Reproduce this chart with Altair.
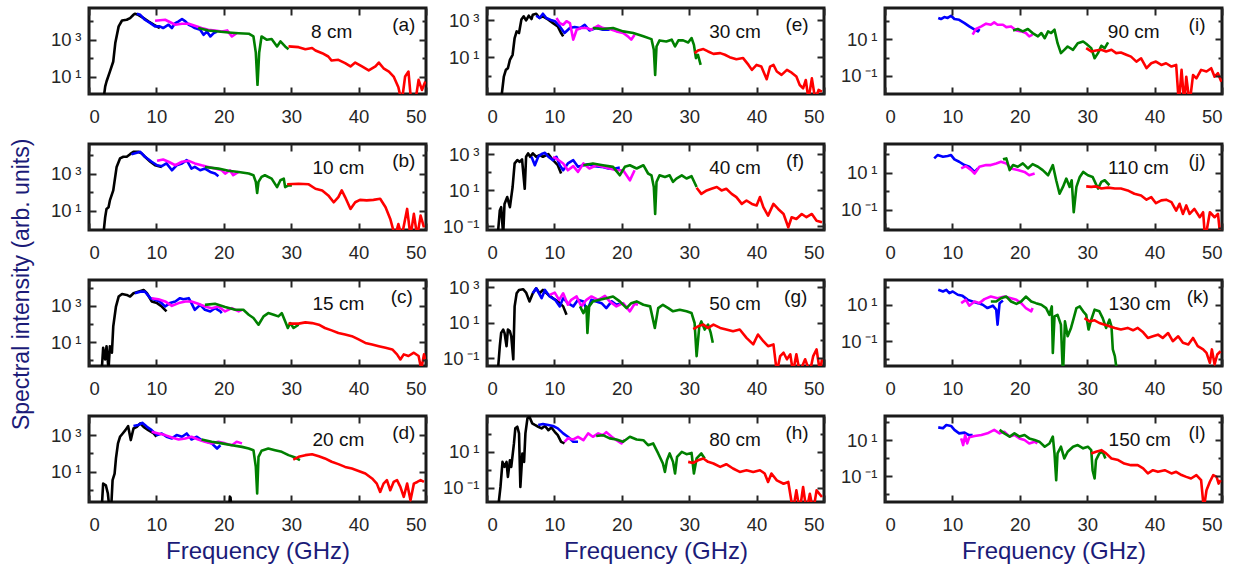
import altair as alt
import pandas as pd

# ---------------- data: (frequency in GHz, log10 of spectral intensity) ----------------
A_BLACK = [(2.1,-0.4),(2.4,0.45),(2.6,0.73),(3.1,1.27),(3.6,1.82),(3.9,2.82),(4.4,3.73),(4.9,4.05),(5.6,4.09),(6.1,4.18),(6.6,4.36),(6.8,4.42),(7.3,4.36),(8.1,4.18),(8.8,4.0),(9.6,3.82),(10.5,3.64)]
A_BLUE = [(7.1,4.42),(7.6,4.36),(8.3,4.09),(9.1,3.91),(9.8,3.73),(10.5,3.73),(11.0,3.64),(11.8,3.82),(12.3,3.64),(12.8,3.91),(13.3,4.0),(13.8,4.13),(14.3,4.0),(14.8,3.82),(15.3,3.73),(15.7,3.64),(16.5,3.55),(17.0,3.27),(17.5,3.45),(18.0,3.18),(18.5,3.36),(19.0,3.45)]
A_MAGENTA = [(9.8,4.04),(11.3,4.09),(12.8,3.82),(13.8,3.87),(14.8,3.87),(15.7,3.76),(16.7,3.64),(17.7,3.55),(18.7,3.51),(19.7,3.45),(20.5,3.51),(21.2,3.18),(21.9,3.36)]
A_GREEN = [(16.2,3.64),(17.7,3.51),(19.2,3.45),(20.7,3.4),(22.2,3.36),(23.7,3.33),(24.4,3.18),(24.75,2.3),(25.0,0.55),(25.25,2.3),(25.6,3.18),(26.4,3.0),(27.1,3.04),(27.9,2.64),(28.4,2.91),(29.1,2.64),(29.6,2.49)]
A_RED = [(29.6,2.64),(31.1,2.6),(32.1,2.49),(33.1,2.55),(33.6,2.42),(34.6,2.27),(35.5,2.09),(36.0,1.87),(37.0,1.91),(38.0,1.73),(38.8,1.55),(39.5,1.76),(40.5,1.55),(41.5,1.33),(42.5,1.55),(43.0,1.76),(43.7,1.45),(44.5,1.27),(45.2,1.0),(45.9,0.42),(46.4,-0.4),(46.9,1.0),(47.4,1.27),(47.8,-0.4),(48.4,-0.4),(48.9,0.82),(49.4,0.27),(49.9,0.73)]

B_BLACK = [(2.1,-0.4),(2.4,0.64),(2.6,1.09),(2.9,1.18),(3.1,1.55),(3.6,2.09),(4.1,3.36),(4.6,3.82),(5.1,3.91),(5.6,3.91),(6.1,4.05),(6.6,4.18),(7.3,4.18),(7.8,4.09),(8.3,3.91),(9.1,3.64),(9.8,3.45),(10.8,3.36)]
B_BLUE = [(6.3,4.05),(7.1,4.13),(7.6,4.18),(8.3,3.91),(9.3,3.64),(10.1,3.45),(10.8,3.4),(11.5,3.55),(12.3,3.18),(13.0,3.45),(13.8,3.55),(14.5,3.73),(15.2,3.27),(15.7,3.36),(16.5,3.18),(17.2,3.27),(18.0,3.09),(18.7,3.0),(19.2,2.85)]
B_MAGENTA = [(10.1,3.69),(11.0,3.76),(11.8,3.64),(12.8,3.45),(13.8,3.64),(14.8,3.69),(15.7,3.55),(16.7,3.45),(17.7,3.36),(18.7,3.27),(19.7,3.18),(20.2,3.0),(20.9,3.18),(21.4,2.91),(22.2,3.09)]
B_GREEN = [(17.2,3.36),(19.2,3.27),(20.7,3.15),(22.2,3.09),(23.7,3.0),(24.4,2.91),(24.75,2.55),(24.95,1.95),(25.15,2.55),(25.6,2.82),(26.1,2.91),(27.1,2.73),(27.9,2.27),(28.4,2.64),(28.9,2.73),(29.1,2.27),(29.6,2.36),(30.1,2.36)]
B_RED = [(29.4,2.42),(31.1,2.45),(32.6,2.42),(33.6,2.18),(34.6,2.09),(35.5,1.82),(36.3,1.45),(37.0,1.73),(37.5,2.09),(38.0,1.73),(38.8,1.09),(39.5,1.45),(40.2,1.58),(41.2,1.55),(42.2,1.58),(43.2,1.64),(44.0,1.18),(44.7,0.55),(45.4,-0.4),(45.9,0.27),(46.4,-0.4),(47.2,1.09),(47.7,-0.4),(48.2,0.82),(48.7,-0.4),(49.2,0.73),(49.7,0.09)]

C_BLACK = [(1.9,-0.5),(2.1,0.69),(2.4,0.05),(2.6,0.78),(2.9,-0.5),(3.1,0.78),(3.4,0.42),(3.6,1.87),(4.0,2.96),(4.4,3.51),(4.9,3.65),(5.6,3.6),(6.1,3.51),(6.6,3.69),(7.3,3.78),(8.1,3.87),(8.6,3.69),(9.3,3.24),(10.1,3.15),(10.8,2.96),(11.5,2.69)]
C_BLUE = [(6.8,3.69),(7.6,3.78),(8.3,3.78),(9.1,3.42),(9.8,3.33),(10.5,3.24),(11.3,2.96),(12.0,3.15),(12.8,3.24),(13.5,3.42),(14.0,3.36),(14.8,3.42),(15.2,3.15),(15.7,2.78),(16.5,3.05),(17.2,2.78),(18.0,2.69),(18.7,2.87),(19.5,2.69),(19.7,2.6)]
C_MAGENTA = [(9.3,3.42),(10.3,3.36),(11.3,3.24),(12.3,3.0),(13.3,3.15),(14.3,3.24),(15.2,3.24),(16.2,3.11),(17.2,2.96),(18.2,2.87),(19.2,2.96),(20.2,2.69),(21.2,2.87),(22.2,2.69),(22.7,2.78)]
C_GREEN = [(17.2,3.05),(18.7,3.11),(20.2,2.93),(21.7,2.78),(22.9,2.78),(23.7,2.51),(24.4,2.33),(25.15,1.96),(25.9,2.42),(26.6,2.6),(27.4,2.51),(28.1,2.42),(28.6,2.6),(29.1,2.15),(29.5,1.78),(29.85,2.05),(30.35,1.78),(31.1,1.96)]
C_RED = [(29.6,2.02),(31.1,2.02),(32.1,2.09),(33.1,2.05),(34.1,1.96),(35.0,1.78),(36.0,1.65),(37.0,1.51),(38.0,1.42),(39.0,1.33),(40.0,1.15),(41.0,0.96),(42.0,0.87),(43.0,0.78),(44.0,0.69),(45.0,0.6),(45.7,0.33),(46.2,0.05),(46.7,0.33),(47.4,0.24),(48.2,0.42),(48.9,0.24),(49.3,-0.5),(49.7,0.33),(49.9,0.05)]

D_BLACK = [(1.9,-0.9),(2.1,0.36),(2.5,0.27),(2.8,-0.18),(3.0,-0.9),(3.3,-0.9),(3.5,0.55),(3.8,0.91),(4.0,1.73),(4.3,2.55),(4.6,2.91),(5.0,3.09),(5.4,3.27),(5.8,3.49),(6.2,2.73),(6.6,3.36),(7.1,3.45),(7.6,3.64),(8.1,3.45),(8.8,3.27),(9.6,3.09),(10.0,2.91)]
D_BLACK_B = [(20.8,-0.9),(20.9,-0.35),(21.0,-0.4),(21.1,-0.9)]
D_BLUE = [(6.6,3.49),(7.3,3.55),(7.9,3.67),(8.6,3.45),(9.3,3.27),(10.1,3.0),(10.8,3.09),(11.5,2.91),(12.3,2.82),(13.0,3.0),(13.8,2.91),(14.5,3.09),(15.2,2.76),(16.0,2.91),(16.7,2.73),(17.5,2.64),(18.2,2.55),(19.0,2.27),(19.5,2.45)]
D_MAGENTA = [(9.3,3.18),(10.3,3.09),(11.3,3.0),(12.3,2.87),(13.3,2.76),(14.3,2.82),(15.2,2.91),(16.2,2.76),(17.2,2.64),(18.2,2.55),(19.2,2.64),(20.2,2.55),(21.2,2.45),(21.9,2.64),(22.7,2.55)]
D_GREEN = [(16.7,2.76),(18.2,2.64),(19.7,2.55),(21.2,2.45),(22.7,2.36),(23.7,2.27),(24.4,2.18),(24.75,1.27),(24.95,-0.18),(25.15,1.82),(25.6,2.15),(26.6,2.27),(27.6,2.18),(28.6,2.09),(29.6,1.91),(30.6,1.78),(31.3,1.64)]
D_RED = [(30.3,1.67),(31.1,1.82),(32.1,1.91),(33.1,1.96),(34.1,1.85),(35.0,1.73),(36.0,1.55),(37.0,1.42),(38.0,1.27),(39.0,1.18),(40.0,1.05),(41.0,0.91),(42.0,0.64),(42.7,0.36),(43.2,-0.09),(43.7,0.36),(44.2,0.55),(44.7,0.0),(45.2,0.45),(45.7,0.55),(46.2,0.18),(46.7,-0.36),(47.2,0.36),(47.7,-0.55),(48.2,0.36),(48.7,0.45),(49.2,0.55),(49.7,0.45)]

E_BLACK = [(2.1,-1.3),(2.5,-0.05),(2.8,0.31),(3.1,0.4),(3.4,0.85),(3.8,1.13),(4.1,2.04),(4.4,2.4),(4.75,2.31),(5.1,3.04),(5.45,3.22),(5.8,3.0),(6.2,3.25),(6.6,3.07),(6.8,3.31),(7.3,3.36),(7.8,3.13),(8.3,3.22),(9.1,3.04),(9.8,2.85),(10.5,2.67),(11.0,2.31),(11.3,2.13)]
E_BLUE = [(7.3,3.25),(7.8,3.13),(8.3,3.36),(8.8,3.13),(9.6,3.0),(10.1,2.95),(10.8,2.67),(11.5,2.31),(12.3,2.58),(13.0,2.64),(13.8,2.58),(14.5,2.76),(15.2,2.45),(16.2,2.58),(17.2,2.49),(18.2,2.49)]
E_MAGENTA = [(10.3,3.13),(10.8,2.85),(11.3,2.76),(11.8,2.95),(12.3,2.85),(12.8,1.95),(13.3,2.49),(14.0,2.58),(14.75,2.58),(15.5,2.49),(16.5,2.71),(17.2,2.58),(18.2,2.53),(19.2,2.4),(20.2,2.31),(20.9,2.13),(21.4,1.95),(21.9,2.22)]
E_GREEN = [(15.7,2.58),(17.2,2.53),(18.7,2.58),(20.2,2.4),(21.7,2.31),(23.2,2.13),(24.4,1.98),(24.75,1.4),(24.95,0.04),(25.15,1.58),(25.6,1.91),(26.6,1.85),(27.4,1.95),(27.9,1.58),(28.4,1.91),(29.1,1.91),(29.85,1.8),(30.35,2.04),(30.7,1.67),(31.0,0.95),(31.3,1.13),(31.7,0.58)]
E_RED = [(30.8,1.22),(31.3,1.36),(32.1,1.44),(32.8,1.31),(33.6,1.18),(34.6,1.22),(35.3,1.13),(36.0,1.0),(37.0,0.89),(38.0,0.95),(38.8,0.58),(39.3,0.31),(40.0,0.58),(40.7,0.49),(41.5,-0.2),(42.0,0.49),(42.5,0.58),(43.0,0.22),(43.7,0.04),(44.5,0.31),(45.2,0.16),(45.9,-0.05),(46.4,-0.51),(46.9,-0.69),(47.3,-0.24),(47.7,-1.3),(48.2,-0.15),(48.7,-1.3),(49.2,-0.78),(49.7,-0.87)]

F_BLACK = [(1.6,-1.5),(1.9,-0.14),(2.1,0.05),(2.4,-1.5),(2.6,0.23),(3.0,0.61),(3.4,0.05),(3.8,1.17),(4.1,2.48),(4.5,2.66),(4.85,2.57),(5.2,2.7),(5.6,1.07),(5.8,2.85),(6.1,3.04),(6.4,2.85),(6.8,3.04),(7.3,2.85),(7.8,2.94),(8.3,2.85),(9.1,3.0),(9.8,2.66),(10.5,2.38),(11.0,1.92)]
F_BLUE = [(6.6,2.85),(7.1,2.38),(7.6,2.85),(8.1,3.0),(8.6,3.07),(9.1,2.85),(9.8,2.66),(10.3,2.85),(10.8,2.38),(11.3,2.1),(12.0,2.48),(12.8,2.66),(13.5,2.29),(14.3,2.38),(15.0,2.44),(16.0,2.33),(17.0,2.29),(18.0,2.2),(19.0,2.2),(19.7,2.25)]
F_MAGENTA = [(9.8,2.85),(10.5,2.7),(11.3,2.48),(12.0,2.1),(12.8,2.33),(13.5,2.01),(14.3,2.48),(15.2,2.2),(16.2,2.38),(17.2,2.29),(18.2,2.2),(19.2,2.1),(20.2,2.1),(21.2,1.54),(21.9,2.1)]
F_GREEN = [(14.3,2.38),(15.7,2.48),(17.2,2.38),(18.7,2.29),(19.7,1.82),(20.45,2.29),(21.2,2.38),(22.2,2.2),(23.2,2.38),(23.9,1.92),(24.4,1.82),(24.75,1.17),(24.95,-0.33),(25.15,1.45),(25.6,1.82),(26.4,1.73),(27.1,1.82),(27.6,1.45),(28.1,1.64),(28.9,1.82),(29.6,1.64),(30.35,1.77),(31.1,1.17)]
F_RED = [(31.1,1.13),(31.8,0.79),(32.6,0.98),(33.3,1.07),(34.1,1.17),(34.8,0.98),(35.5,1.07),(36.3,0.79),(37.0,0.61),(37.8,0.23),(38.5,0.42),(39.3,0.23),(40.0,0.14),(40.5,0.61),(41.0,0.05),(41.7,-0.42),(42.5,0.23),(43.2,-0.05),(44.0,-0.33),(44.7,-1.07),(45.2,-0.51),(45.9,-0.61),(46.7,-0.33),(47.4,-0.51),(48.2,-0.33),(48.9,-0.7),(49.7,-0.79)]

G_BLACK = [(1.6,-1.8),(1.9,-0.33),(2.1,0.42),(2.4,0.61),(2.6,0.42),(2.9,-0.33),(3.1,0.61),(3.4,0.51),(3.6,0.23),(3.9,-1.07),(4.1,1.92),(4.4,2.66),(4.75,2.85),(5.35,2.89),(5.8,2.7),(6.3,2.2),(6.8,2.66),(7.3,2.94),(7.8,2.66),(8.3,2.85),(9.1,2.57),(9.8,2.38),(10.5,2.2),(11.3,1.92),(11.8,1.45)]
G_BLUE = [(6.8,2.66),(7.3,2.94),(8.1,2.38),(8.6,2.85),(9.3,2.48),(10.1,2.29),(10.8,1.92),(11.3,2.38),(12.0,2.1),(12.8,1.92),(13.5,2.29),(14.3,2.2),(14.85,1.64),(15.5,2.29),(16.2,2.2),(17.0,2.1),(17.7,1.82),(18.5,2.2),(19.2,2.01),(19.7,2.07)]
G_MAGENTA = [(9.3,2.57),(10.05,2.7),(10.7,2.29),(11.3,2.66),(12.0,2.01),(12.5,2.29),(13.3,2.48),(14.0,1.92),(14.75,2.29),(15.5,2.48),(16.5,2.29),(17.5,2.51),(18.2,2.2),(19.2,1.92),(20.2,2.1),(21.2,1.64),(21.9,2.07),(22.4,2.01)]
G_GREEN = [(13.8,1.92),(14.3,1.54),(14.75,1.92),(14.9,0.42),(15.15,1.92),(15.7,2.2),(16.7,2.29),(17.7,2.38),(18.7,2.48),(19.7,2.2),(20.7,1.82),(21.4,2.1),(22.2,2.2),(23.2,2.01),(24.2,1.92),(24.9,0.7),(25.4,1.82),(26.1,2.01),(26.9,1.82),(27.6,1.64),(28.6,1.73),(29.6,1.64),(30.35,1.54),(30.8,0.98),(31.1,-0.89),(31.5,0.79),(31.8,1.07),(32.3,0.61),(32.8,0.89),(33.2,0.42),(33.5,-0.14)]
G_RED = [(30.6,0.64),(31.3,0.79),(32.1,0.89),(32.8,0.7),(33.6,0.89),(34.6,0.7),(35.5,0.61),(36.5,0.51),(37.5,0.61),(38.5,0.14),(39.5,-0.23),(40.2,0.33),(41.0,-0.05),(41.7,-0.33),(42.5,-0.23),(43.0,-1.8),(43.5,-0.89),(44.0,-0.7),(44.5,-1.07),(45.0,-0.79),(45.4,-1.8),(45.9,-0.79),(46.4,-1.8),(47.2,-1.07),(47.9,-1.8),(48.4,-0.89),(48.9,-0.51),(49.4,-1.8),(49.7,-1.07)]

H_BLACK = [(1.6,-2.3),(2.0,-0.96),(2.3,0.44),(2.6,0.16),(2.9,0.44),(3.1,-0.4),(3.4,0.53),(3.6,0.16),(4.0,1.47),(4.2,2.31),(4.5,2.4),(4.75,2.03),(4.95,-0.96),(5.25,0.91),(5.5,0.44),(5.7,2.03),(6.0,2.87),(6.3,2.96),(6.7,2.59),(7.1,2.5),(7.6,2.4),(8.1,2.31),(8.6,2.44),(9.1,2.21),(9.55,2.36),(10.05,2.12),(10.5,1.93),(11.0,1.56),(11.5,1.47)]
H_BLUE = [(7.6,2.5),(8.3,2.55),(9.1,2.5),(9.8,2.44),(10.5,2.31),(11.3,2.03),(12.0,1.84),(12.8,1.56),(13.5,1.56)]
H_MAGENTA = [(11.5,1.56),(12.0,1.75),(12.8,1.69),(13.5,1.84),(14.3,1.65),(15.0,2.03),(15.7,1.84),(16.5,2.03),(17.2,1.93),(17.7,2.1),(18.5,1.84),(19.2,1.65),(19.95,1.47),(20.45,1.69)]
H_GREEN = [(16.2,1.88),(17.2,1.93),(18.2,1.75),(19.2,1.69),(20.2,1.56),(21.2,1.84),(22.2,1.69),(23.2,1.65),(23.9,1.37),(24.65,1.47),(25.4,0.91),(26.1,0.35),(26.4,-0.12),(26.7,0.53),(27.1,0.91),(27.6,0.44),(27.9,-0.21),(28.2,0.72),(28.9,1.0),(29.6,0.87),(30.35,0.94),(30.7,-0.21),(31.1,0.63),(31.8,0.91),(32.3,0.63)]
H_RED = [(29.85,0.44),(30.6,0.38),(31.3,0.53),(32.1,0.63),(32.8,0.44),(33.6,0.35),(34.6,0.16),(35.5,0.31),(36.5,0.07),(37.5,-0.12),(38.5,-0.03),(39.5,-0.12),(40.5,-0.03),(41.2,-0.21),(41.7,-0.68),(42.2,-0.21),(43.0,-0.59),(44.0,-0.78),(44.7,-0.68),(45.4,-2.3),(45.9,-1.15),(46.4,-2.3),(46.9,-0.96),(47.4,-2.3),(47.9,-1.34),(48.4,-2.3),(48.9,-1.15),(49.7,-1.52)]

I_BLUE = [(7.9,2.15),(8.3,2.09),(8.8,2.2),(9.3,2.15),(9.8,2.27),(10.3,2.09),(11.0,2.05),(11.8,1.87),(12.5,1.69),(13.3,1.51),(13.8,1.42),(14.0,1.55)]
I_MAGENTA = [(13.0,1.24),(13.5,1.55),(14.3,1.69),(15.0,1.84),(15.7,1.78),(16.2,1.91),(16.7,1.78),(17.5,1.78),(18.0,1.65),(18.7,1.69),(19.5,1.47),(20.2,1.42),(20.9,1.33),(21.4,1.15),(21.9,1.24)]
I_GREEN = [(19.0,1.47),(19.7,1.55),(20.45,1.42),(21.2,1.55),(21.9,1.33),(22.7,1.15),(23.2,1.33),(23.7,1.05),(24.2,1.42),(24.65,1.33),(25.15,1.51),(25.6,0.78),(26.1,0.24),(26.6,0.42),(27.1,0.6),(27.9,0.42),(28.6,0.78),(29.4,0.87),(29.85,0.75),(30.6,0.51),(31.1,-0.04),(31.6,0.24),(32.1,0.64),(32.6,0.51),(33.1,0.82)]
I_RED = [(29.85,0.51),(30.6,0.33),(31.3,0.38),(32.1,0.42),(32.8,0.33),(33.6,0.42),(34.3,0.24),(35.0,0.27),(35.8,0.15),(36.5,0.05),(37.3,-0.22),(38.0,-0.04),(38.8,-0.58),(39.5,-0.31),(40.2,-0.22),(41.0,-0.4),(41.7,-0.31),(42.5,-0.49),(43.2,-0.4),(43.6,-2.5),(44.0,-0.67),(44.4,-2.5),(44.7,-1.04),(45.2,-2.5),(45.7,-0.95),(46.2,-1.13),(46.9,-0.67),(47.7,-0.76),(48.4,-0.58),(48.9,-1.04),(49.4,-0.85),(49.9,-1.31)]

J_BLUE = [(7.3,1.78),(7.8,1.96),(8.6,1.87),(9.3,1.91),(9.8,1.96),(10.3,1.73),(11.0,1.6),(11.8,1.42),(12.5,1.33),(13.3,1.05),(13.8,1.24)]
J_MAGENTA = [(11.3,1.24),(12.0,1.36),(12.8,1.15),(13.3,0.96),(14.0,1.33),(15.0,1.42),(15.7,1.42),(16.5,1.51),(17.2,1.6),(18.0,1.51),(18.7,1.24),(19.7,1.15),(20.7,1.05),(21.4,0.87),(22.2,0.96)]
J_GREEN = [(17.5,1.73),(18.0,1.78),(18.5,1.15),(19.0,1.42),(19.7,1.33),(20.45,1.51),(21.2,1.24),(21.9,1.47),(22.7,1.33),(23.4,1.15),(24.2,0.87),(24.9,1.42),(25.4,0.6),(25.9,-0.13),(26.4,0.24),(26.9,0.69),(27.4,0.24),(27.7,0.6),(28.0,-1.13),(28.4,0.24),(28.9,0.78),(29.4,1.05),(30.1,0.87),(30.8,0.78),(31.6,0.15),(32.1,0.51),(32.6,0.6),(33.3,0.33)]
J_RED = [(29.85,0.27),(30.6,0.24),(31.3,0.27),(32.1,0.15),(33.1,0.2),(34.1,0.15),(35.0,0.15),(36.0,0.05),(37.0,-0.13),(38.0,-0.22),(38.8,-0.45),(39.5,-0.31),(40.2,-0.64),(41.0,-0.49),(41.7,-0.45),(42.5,-0.58),(43.2,-1.04),(43.7,-0.67),(44.2,-1.22),(44.7,-0.76),(45.2,-1.22),(45.9,-0.95),(46.7,-1.4),(47.2,-1.13),(47.5,-2.6),(48.2,-1.13),(48.9,-1.4),(49.4,-1.22),(49.8,-2.6)]

K_BLUE = [(7.9,1.82),(8.6,1.73),(9.1,1.82),(9.55,1.64),(10.05,1.73),(10.8,1.55),(11.5,1.49),(12.3,1.27),(13.0,1.18),(13.8,1.09),(14.5,1.0),(15.2,0.82),(16.0,0.95),(16.5,0.73),(16.7,-0.09),(17.0,1.09),(17.5,1.24)]
K_MAGENTA = [(11.3,1.09),(12.0,1.27),(12.5,0.95),(13.3,1.18),(14.0,1.09),(14.75,1.31),(15.7,1.45),(16.7,1.36),(17.7,1.45),(18.7,1.36),(19.5,1.27),(20.2,1.09),(20.9,0.82),(21.7,0.64),(21.9,0.82)]
K_GREEN = [(15.7,1.18),(16.5,1.18),(17.2,1.36),(18.0,1.45),(18.7,1.18),(19.5,1.05),(20.2,1.18),(20.9,1.45),(21.7,1.18),(22.4,1.09),(23.2,1.0),(23.9,0.82),(24.4,0.45),(24.75,0.91),(24.9,-1.64),(25.15,0.36),(25.6,0.45),(26.1,-0.09),(26.4,-2.9),(26.7,0.09),(27.1,-0.73),(27.6,-0.27),(28.0,0.27),(28.4,0.82),(28.9,0.91),(29.4,0.64),(29.85,0.45),(30.2,-0.36),(30.6,0.18),(31.1,0.73),(31.8,0.64),(32.3,0.27),(32.8,-0.27),(33.3,0.18),(33.6,-0.18),(33.8,-1.45),(34.1,-1.82),(34.5,-2.9)]
K_RED = [(29.6,0.27),(30.35,0.09),(31.1,0.15),(31.8,0.0),(32.6,-0.09),(33.3,-0.18),(34.1,-0.27),(35.0,-0.36),(36.0,-0.27),(36.8,-0.4),(37.5,-0.27),(38.3,-0.51),(39.0,-0.82),(39.75,-0.73),(40.5,-0.64),(41.2,-0.82),(42.0,-0.55),(42.7,-1.0),(43.5,-0.73),(44.2,-1.09),(45.0,-1.18),(45.7,-0.82),(46.4,-1.27),(47.2,-1.45),(47.7,-1.64),(48.2,-2.18),(48.5,-1.45),(48.9,-2.27),(49.3,-1.73),(49.8,-1.55)]

L_BLUE = [(7.9,1.7),(8.6,1.65),(9.1,1.83),(9.8,1.78),(10.3,1.56),(11.0,1.37),(11.8,1.41),(12.4,1.28),(13.0,1.28)]
L_MAGENTA = [(11.3,1.09),(11.6,0.72),(11.9,1.28),(12.2,0.81),(12.5,1.15),(13.3,1.22),(14.3,1.28),(15.2,1.37),(16.2,1.56),(17.0,1.37),(17.7,1.46),(18.5,1.19),(19.2,1.28),(19.95,1.09),(20.7,1.0),(21.4,0.81),(22.2,0.91),(22.6,0.81)]
L_GREEN = [(17.0,1.56),(17.7,1.37),(18.5,1.19),(19.2,1.37),(19.95,1.19),(20.7,1.28),(21.4,1.09),(22.2,1.0),(22.9,0.91),(23.7,0.63),(24.4,0.81),(24.9,1.19),(25.15,0.26),(25.4,-1.22),(25.6,0.26),(26.1,0.63),(26.6,-0.02),(27.1,0.35),(27.9,0.63),(28.6,0.72),(29.4,0.54),(30.1,0.63),(30.6,0.44),(30.8,-0.67),(31.1,-1.13),(31.3,-0.11),(31.8,0.26),(32.3,0.35),(32.7,-0.02)]
L_RED = [(30.6,0.26),(31.3,0.35),(32.1,0.44),(32.8,0.26),(33.6,-0.02),(34.6,-0.11),(35.5,-0.3),(36.5,-0.39),(37.5,-0.39),(38.3,-0.57),(39.0,-0.85),(39.75,-0.67),(40.5,-0.76),(41.5,-0.67),(42.5,-0.85),(43.2,-0.76),(44.0,-0.94),(44.7,-1.04),(45.4,-1.13),(46.2,-0.94),(46.9,-1.22),(47.3,-2.8),(47.7,-1.78),(48.2,-1.31),(48.7,-0.94),(49.2,-1.04),(49.5,-1.41),(49.8,-1.22)]

PANEL_SERIES = [
    {"black": [A_BLACK], "blue": [A_BLUE], "magenta": [A_MAGENTA], "green": [A_GREEN], "red": [A_RED]},
    {"black": [B_BLACK], "blue": [B_BLUE], "magenta": [B_MAGENTA], "green": [B_GREEN], "red": [B_RED]},
    {"black": [C_BLACK], "blue": [C_BLUE], "magenta": [C_MAGENTA], "green": [C_GREEN], "red": [C_RED]},
    {"black": [D_BLACK, D_BLACK_B], "blue": [D_BLUE], "magenta": [D_MAGENTA], "green": [D_GREEN], "red": [D_RED]},
    {"black": [E_BLACK], "blue": [E_BLUE], "magenta": [E_MAGENTA], "green": [E_GREEN], "red": [E_RED]},
    {"black": [F_BLACK], "blue": [F_BLUE], "magenta": [F_MAGENTA], "green": [F_GREEN], "red": [F_RED]},
    {"black": [G_BLACK], "blue": [G_BLUE], "magenta": [G_MAGENTA], "green": [G_GREEN], "red": [G_RED]},
    {"black": [H_BLACK], "blue": [H_BLUE], "magenta": [H_MAGENTA], "green": [H_GREEN], "red": [H_RED]},
    {"blue": [I_BLUE], "magenta": [I_MAGENTA], "green": [I_GREEN], "red": [I_RED]},
    {"blue": [J_BLUE], "magenta": [J_MAGENTA], "green": [J_GREEN], "red": [J_RED]},
    {"blue": [K_BLUE], "magenta": [K_MAGENTA], "green": [K_GREEN], "red": [K_RED]},
    {"blue": [L_BLUE], "magenta": [L_MAGENTA], "green": [L_GREEN], "red": [L_RED]},
]

TAGS = ["(a)", "(b)", "(c)", "(d)", "(e)", "(f)", "(g)", "(h)", "(i)", "(j)", "(k)", "(l)"]
DISTANCES = ["8 cm", "10 cm", "15 cm", "20 cm", "30 cm", "40 cm", "50 cm", "80 cm",
             "90 cm", "110 cm", "130 cm", "150 cm"]
Y_LO = [0.05, -0.05, -0.31, -0.64, -1.0, -1.22, -1.45, -1.8, -1.98, -2.09, -2.36, -2.43]
Y_HI = [4.73, 4.6, 4.42, 4.04, 3.67, 3.56, 3.41, 3.0, 2.69, 2.56, 2.36, 2.33]
LABELLED = [[1, 3], [1, 3], [1, 3], [1, 3], [1, 3], [-1, 1, 3], [-1, 1, 3], [-1, 1],
            [-1, 1], [-1, 1], [-1, 1], [-1, 1]]
DIST_X = [36.0, 37.0, 37.0, 37.0, 36.8, 36.8, 36.8, 36.8, 36.9, 37.6, 37.8, 37.8]
TAG_X = [46.7, 46.7, 46.4, 46.7, 46.0, 45.7, 45.8, 46.0, 46.3, 46.3, 46.4, 46.3]
X_TICKS = [0, 10, 20, 30, 40, 50]

SUP = {3: "10\u2009\u00b3", 1: "10\u2009\u00b9", -1: "10\u2009\u207b\u00b9"}
COLORS = {"black": "#000000", "blue": "#0000ff", "magenta": "#ff00ff",
          "green": "#008000", "red": "#ff0000"}
ORDER = ["black", "blue", "magenta", "green", "red"]

# ---------------- styling ----------------
FONT = "Liberation Sans"
NAVY = "#1b1b78"
AXC = "#262626"
W, H = 337, 86
TMAJ, TMIN = 7, 4


def axis(orient, values, size, labels=False, label_expr="", title=None):
    kw = dict(orient=orient, values=values, tickSize=size, offset=-size, domain=False,
              grid=False, labels=labels, tickColor=AXC, tickWidth=2, zindex=1, title=title)
    if labels:
        kw.update(labelFont=FONT, labelFontSize=18.5, labelColor=AXC)
        if orient == "bottom":
            kw.update(labelPadding=13, format="d")
        else:
            kw.update(labelPadding=8, labelExpr=label_expr)
    if title:
        kw.update(titleFont=FONT, titleFontSize=24, titleFontWeight="normal",
                  titleColor=NAVY, titlePadding=6)
    return alt.Axis(**kw)


def panel(i, bottom_row):
    lo, hi = Y_LO[i], Y_HI[i]
    xs = alt.Scale(domain=[0, 50], nice=False, zero=False)
    ys = alt.Scale(type="log", domain=[10 ** lo, 10 ** hi], nice=False)
    decades = [k for k in range(-4, 6) if lo + 0.05 < k < hi - 0.05]
    major = [10.0 ** k for k in LABELLED[i]]
    minor = [10.0 ** k for k in decades if k not in LABELLED[i]]
    expr = " : ".join(
        f"(datum.value > {0.5 * 10.0 ** k} && datum.value < {2 * 10.0 ** k}) ? '{SUP[k]}'"
        for k in LABELLED[i]) + " : ''"
    frame = pd.DataFrame({"f": [0.0, 50.0], "I": [10 ** lo, 10 ** hi]})

    def ax_layer(xaxis, yaxis):
        return alt.Chart(frame).mark_point(opacity=0).encode(
            x=alt.X("f:Q", scale=xs, axis=xaxis),
            y=alt.Y("I:Q", scale=ys, axis=yaxis))

    layers = [
        ax_layer(axis("bottom", X_TICKS, TMAJ, labels=True,
                      title="Frequency (GHz)" if bottom_row else None),
                 axis("left", major, TMAJ, labels=True, label_expr=expr)),
        ax_layer(axis("top", X_TICKS, TMAJ), axis("right", major, TMAJ)),
    ]
    if minor:
        layers.append(ax_layer(None, axis("left", minor, TMIN)))
        layers.append(ax_layer(None, axis("right", minor, TMIN)))

    for c in ORDER:
        segs = PANEL_SERIES[i].get(c)
        if not segs:
            continue
        rows = []
        for si, seg in enumerate(segs):
            for f, v in seg:
                rows.append({"f": f, "I": 10.0 ** v, "seg": si})
        df = pd.DataFrame(rows)
        layers.append(
            alt.Chart(df).mark_line(color=COLORS[c], strokeWidth=2.6, clip=True,
                                    strokeJoin="round").encode(
                x=alt.X("f:Q", scale=xs, axis=None),
                y=alt.Y("I:Q", scale=ys, axis=None),
                detail="seg:N"))

    dist_df = pd.DataFrame({"f": [DIST_X[i]], "t": [DISTANCES[i]]})
    tag_df = pd.DataFrame({"f": [TAG_X[i]], "t": [TAGS[i]]})
    layers.append(alt.Chart(dist_df).mark_text(font=FONT, fontSize=19, color="#111111",
                                               baseline="middle", align="center").encode(
        x=alt.X("f:Q", scale=xs, axis=None), y=alt.value(24), text="t:N"))
    layers.append(alt.Chart(tag_df).mark_text(font=FONT, fontSize=19, color="#111111",
                                              baseline="middle", align="center").encode(
        x=alt.X("f:Q", scale=xs, axis=None), y=alt.value(17), text="t:N"))

    return alt.layer(*layers).resolve_axis(x="independent", y="independent").properties(
        width=W, height=H)


# row-major order: row r holds panels r (col 1), r+4 (col 2), r+8 (col 3)
ordered = [panel(col * 4 + r, r == 3) for r in range(4) for col in range(3)]

chart = alt.concat(*ordered, columns=3, bounds="flush",
                   spacing=alt.RowColnumber(row=50, column=61)).properties(
    title=alt.TitleParams(text="Spectral intensity (arb. units)", orient="left",
                          anchor="middle", font=FONT, fontSize=23, fontWeight="normal",
                          color=NAVY, offset=15),
    padding={"left": 11, "top": 3, "right": 5, "bottom": 5},
).configure(font=FONT).configure_view(stroke="#1a1a1a", strokeWidth=3)

chart.save("out.html", embed_options={"renderer": "svg", "actions": False})
